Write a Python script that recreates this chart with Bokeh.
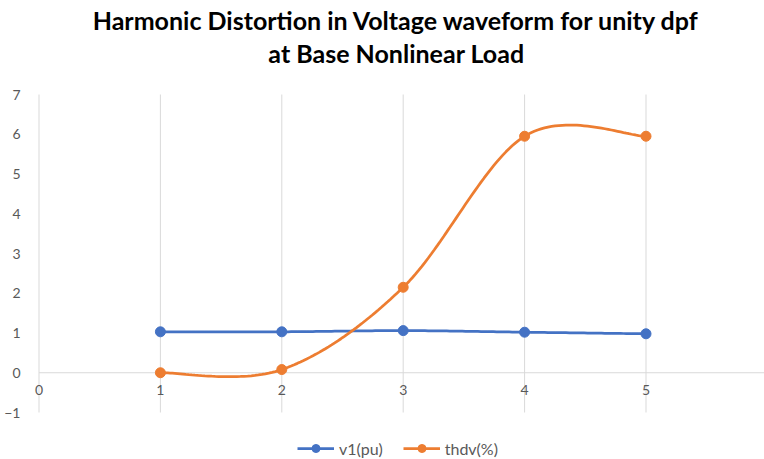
import numpy as np
from bokeh.plotting import figure
from bokeh.models import Range1d, Legend, LegendItem, FixedTicker, Label
from bokeh.embed import file_html
from bokeh.resources import INLINE

# Load case index and measured quantities
cases = [1, 2, 3, 4, 5]
v1_pu = [1.03, 1.03, 1.06, 1.02, 0.98]
thdv_pct = [0.0, 0.08, 2.15, 5.95, 5.95]
x_ticks = [0, 1, 2, 3, 4, 5]
y_ticks = [-1, 0, 1, 2, 3, 4, 5, 6, 7]
title_lines = ["Harmonic Distortion in Voltage waveform for unity dpf",
               "at Base Nonlinear Load"]

BLUE = "#4472C4"
ORANGE = "#ED7D31"
GRID = "#d9d9d9"
TEXT = "#595959"
FONT = "Lato"

# Canvas geometry (pixels)
W, H = 764, 459
LEFT = 30            # frame starts here; the y labels live to its left
X0_PX = 38.5         # where x = 0 sits
UNIT_X = 121.4       # pixels per x unit
Y_TOP_PX, Y_BOT_PX = 94, 412   # where y = 7 and y = -1 sit
UNIT_Y = (Y_BOT_PX - Y_TOP_PX) / (max(y_ticks) - min(y_ticks))

x_lo = -(X0_PX - LEFT) / UNIT_X
x_hi = x_lo + (W - LEFT) / UNIT_X
y_hi = max(y_ticks) + Y_TOP_PX / UNIT_Y
y_lo = min(y_ticks) - (H - Y_BOT_PX) / UNIT_Y


def px_x(px):
    return x_lo + (px - LEFT) / UNIT_X


def px_y(py):
    return y_hi - py / UNIT_Y


def smooth_curve(xs, ys, steps=40):
    """Sample a Catmull-Rom style cubic Bezier path passing through the points."""
    xs = np.asarray(xs, float)
    ys = np.asarray(ys, float)
    n = len(xs)
    t = np.linspace(0, 1, steps)
    out_x, out_y = [], []
    for i in range(n - 1):
        a = max(i - 1, 0)
        b = min(i + 2, n - 1)
        p0 = np.array([xs[i], ys[i]])
        p3 = np.array([xs[i + 1], ys[i + 1]])
        p1 = p0 + (p3 - np.array([xs[a], ys[a]])) / 6
        p2 = p3 - (np.array([xs[b], ys[b]]) - p0) / 6
        c = ((1 - t) ** 3)[:, None] * p0 + (3 * t * (1 - t) ** 2)[:, None] * p1 \
            + (3 * t ** 2 * (1 - t))[:, None] * p2 + (t ** 3)[:, None] * p3
        out_x.extend(c[:, 0].tolist())
        out_y.extend(c[:, 1].tolist())
    return out_x, out_y


p = figure(width=W, height=H, output_backend="svg", toolbar_location=None,
           x_range=Range1d(x_lo, x_hi), y_range=Range1d(y_lo, y_hi),
           min_border_left=LEFT, min_border_right=0, min_border_top=0,
           min_border_bottom=0)
p.outline_line_color = None
p.background_fill_color = "white"
p.border_fill_color = "white"
p.title.visible = False
p.xgrid.grid_line_color = None
p.ygrid.grid_line_color = None

# Vertical grid lines spanning the value range only
p.segment(x0=x_ticks, y0=[min(y_ticks)] * len(x_ticks), x1=x_ticks,
          y1=[max(y_ticks)] * len(x_ticks), line_color=GRID, line_width=1)
# Horizontal axis line at y = 0
p.segment(x0=[0], y0=[0], x1=[x_hi], y1=[0], line_color=GRID, line_width=1)

# Category labels under the y = 0 line
p.text(x=x_ticks, y=[0] * len(x_ticks), text=[str(t) for t in x_ticks],
       text_align="center", text_baseline="top", y_offset=12,
       text_font={"value": FONT}, text_font_size="14px", text_color=TEXT)

xa = p.xaxis[0]
xa.visible = False

ya = p.yaxis[0]
ya.ticker = FixedTicker(ticks=y_ticks)
ya.axis_line_color = None
ya.major_tick_line_color = None
ya.minor_tick_line_color = None
ya.major_label_text_font = FONT
ya.major_label_text_font_size = "14px"
ya.major_label_text_color = TEXT
ya.major_label_standoff = 4

# Title, two centred lines
for line, base_px in zip(title_lines, [19, 52]):
    p.add_layout(Label(x=px_x(396), y=px_y(base_px), text=line, text_align="center",
                       text_baseline="alphabetic", text_font=FONT,
                       text_font_style="bold", text_font_size="25px",
                       text_color="#000000"))

items = []
for name, ys, color in [("v1(pu)", v1_pu, BLUE), ("thdv(%)", thdv_pct, ORANGE)]:
    cx, cy = smooth_curve(cases, ys)
    r_line = p.line(cx, cy, line_color=color, line_width=2.75)
    r_pts = p.scatter(cases, ys, size=10, marker="circle", fill_color=color, line_color=color)
    items.append(LegendItem(label=name, renderers=[r_line, r_pts]))

legend = Legend(items=items, orientation="horizontal", location=(267, 1),
                border_line_color=None, background_fill_alpha=0,
                label_text_font=FONT, label_text_font_size="16px",
                label_text_color=TEXT, glyph_width=37, label_standoff=5,
                spacing=20, margin=0, padding=2)
p.add_layout(legend, "center")

open("out.html", "w").write(file_html(p, INLINE))
